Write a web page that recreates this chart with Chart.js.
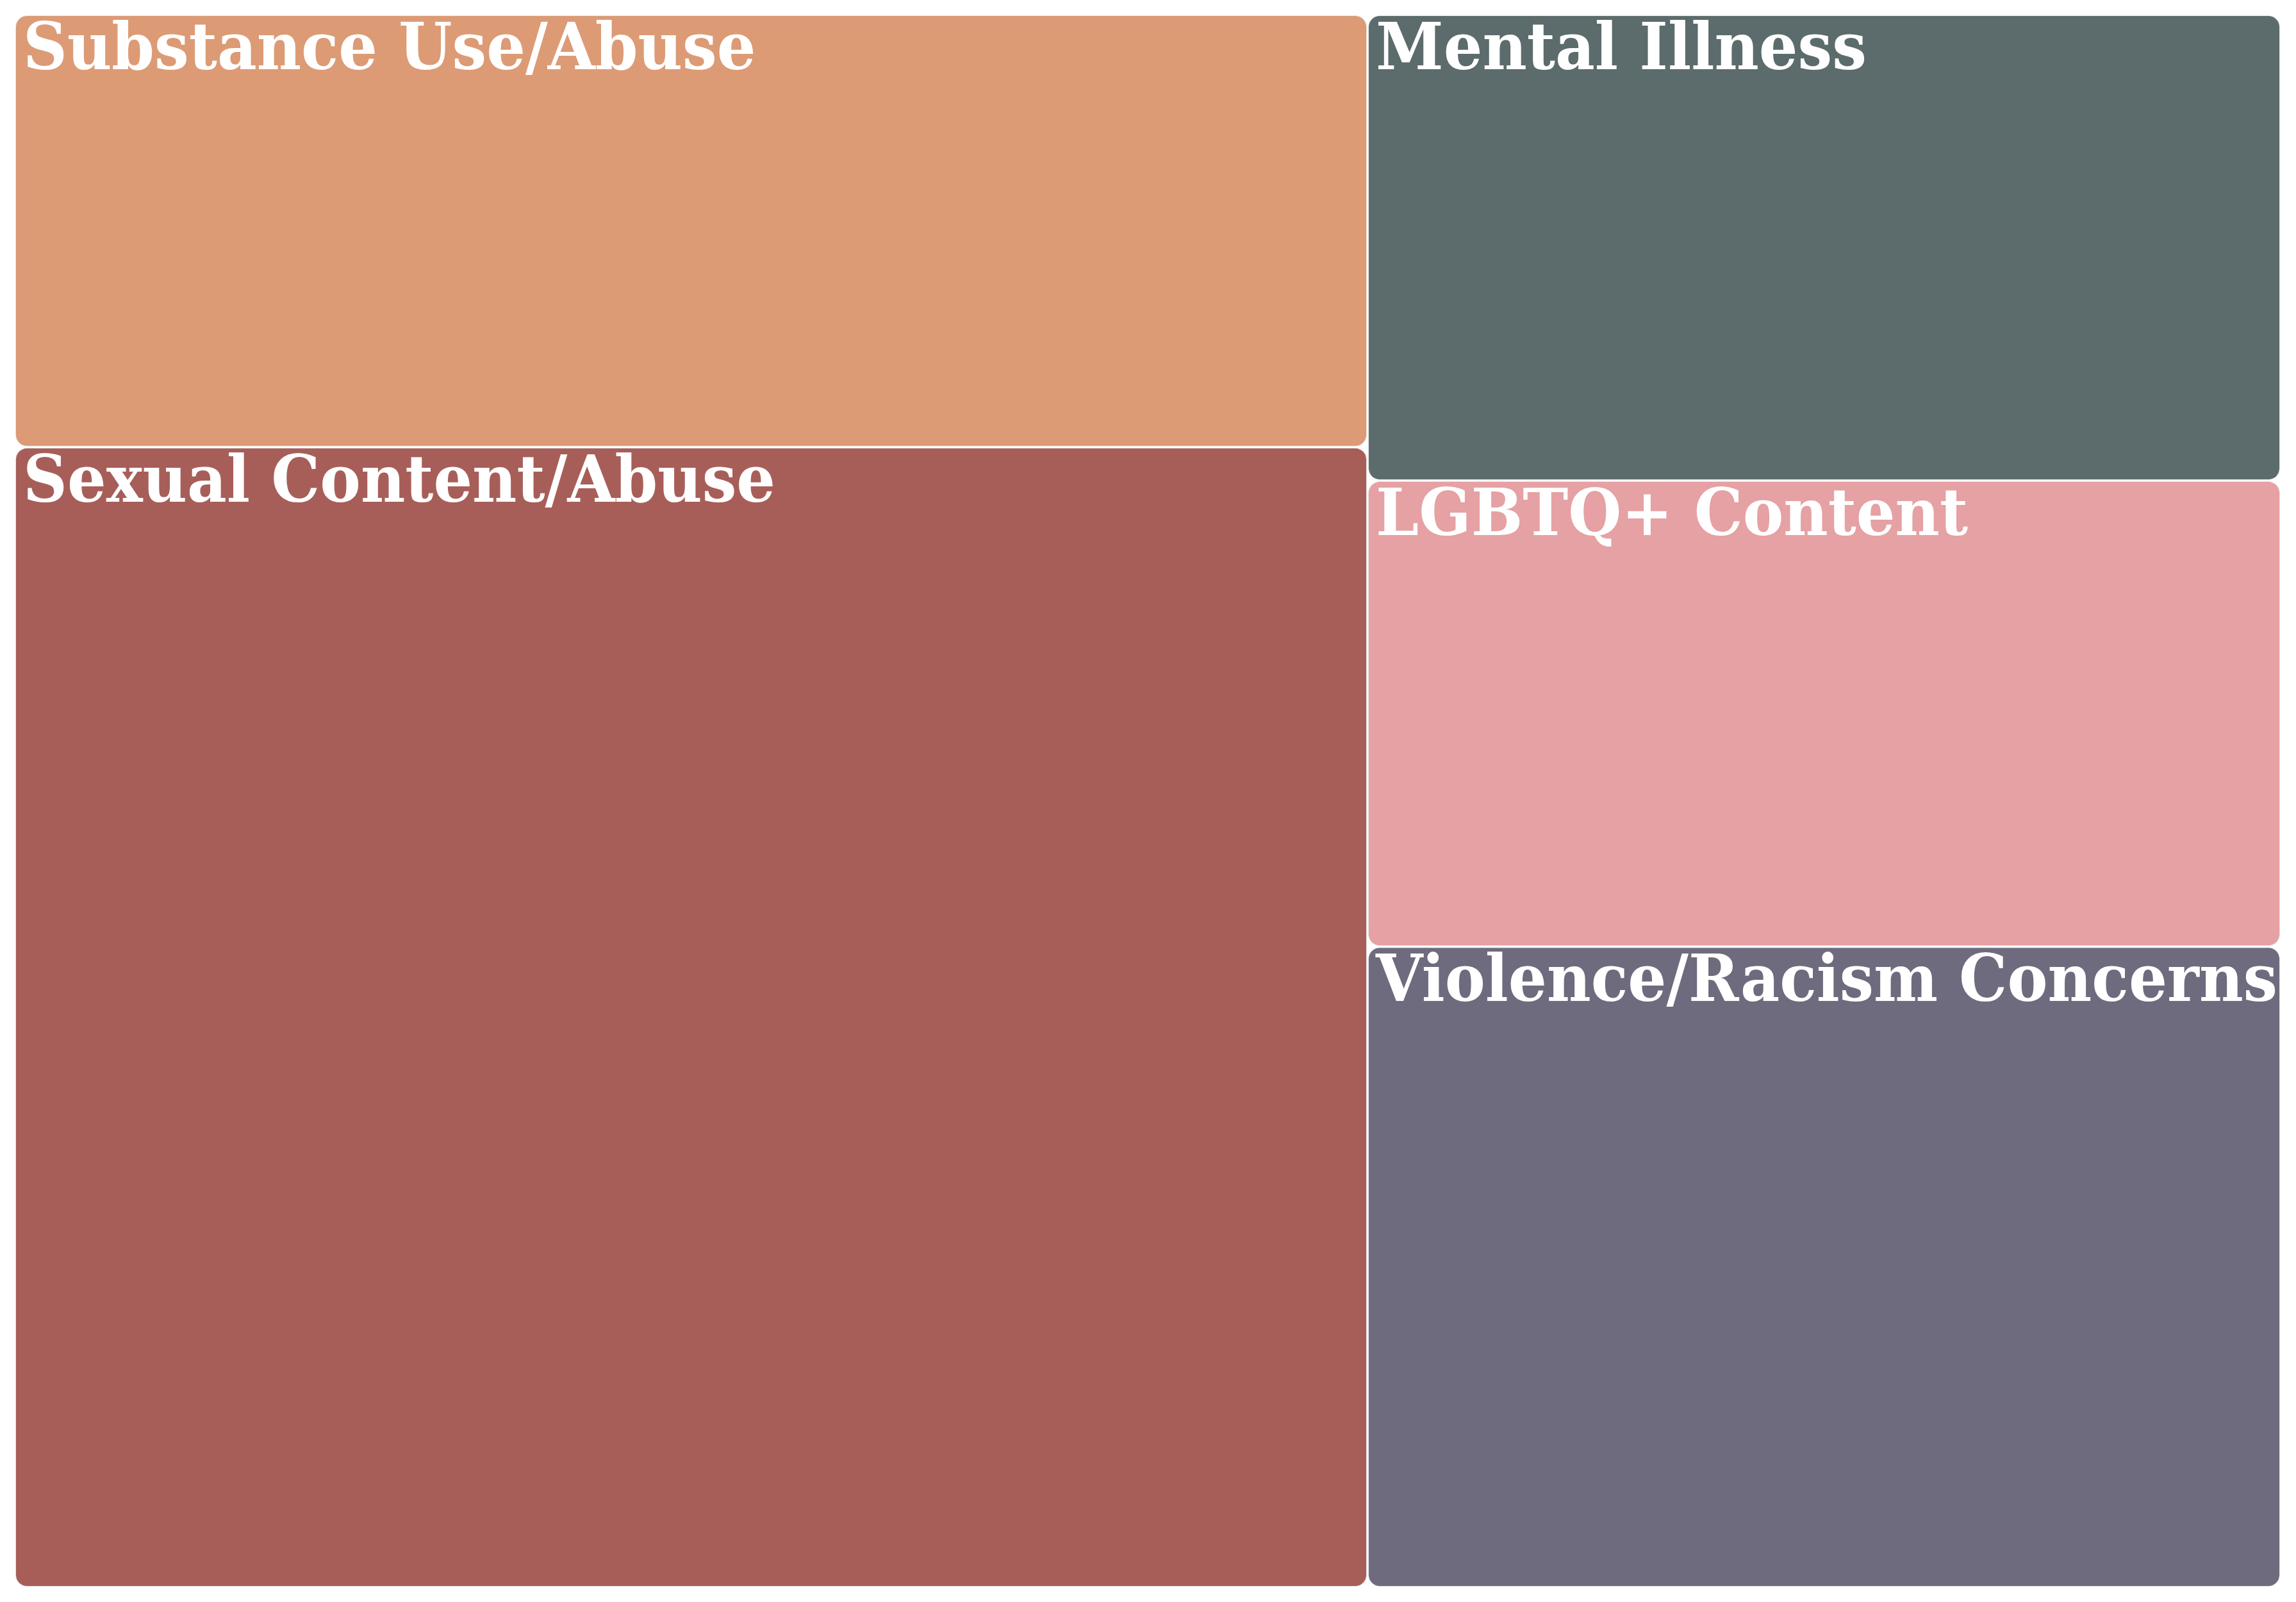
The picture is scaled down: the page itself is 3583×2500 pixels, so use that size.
<!DOCTYPE html>
<html>
<head>
<meta charset="utf-8">
<title>Treemap</title>
<script src="https://cdn.jsdelivr.net/npm/chart.js@4.4.1/dist/chart.umd.min.js"></script>
<style>
  html, body { margin: 0; padding: 0; background: #ffffff; }
  #wrap { width: 3583px; height: 2500px; }
</style>
</head>
<body>
<div id="wrap"><canvas id="c" width="3583" height="2500"></canvas></div>
<script>
// ---- data ----
const categories = [
  'Substance Use/Abuse',
  'Sexual Content/Abuse',
  'Mental Illness',
  'LGBTQ+ Content',
  'Violence/Racism Concerns'
];
const values = [11, 29, 8, 8, 11];
const colors = ['#DC9B75', '#A75E59', '#5C6B6B', '#E5A1A3', '#6E6B7E'];

// ---- squarified layout (d3-style, ratio 1, data order kept) ----
function squarify(vals, x0, y0, x1, y1, ratio) {
  const n = vals.length;
  const out = new Array(n);
  let value = vals.reduce((a, b) => a + b, 0);
  let i0 = 0, i1 = 0;
  while (i0 < n) {
    const dx = x1 - x0, dy = y1 - y0;
    let sumValue;
    do { sumValue = vals[i1++]; } while (!sumValue && i1 < n);
    let minValue = sumValue, maxValue = sumValue;
    const alpha = Math.max(dy / dx, dx / dy) / (value * ratio);
    let beta = sumValue * sumValue * alpha;
    let minRatio = Math.max(maxValue / beta, beta / minValue);
    for (; i1 < n; ++i1) {
      const v = vals[i1];
      sumValue += v;
      if (v < minValue) minValue = v;
      if (v > maxValue) maxValue = v;
      beta = sumValue * sumValue * alpha;
      const newRatio = Math.max(maxValue / beta, beta / minValue);
      if (newRatio > minRatio) { sumValue -= v; break; }
      minRatio = newRatio;
    }
    if (dx < dy) {
      const ny = y0 + dy * sumValue / value;
      let x = x0; const k = (x1 - x0) / sumValue;
      for (let i = i0; i < i1; i++) { const w = vals[i] * k; out[i] = {x0: x, x1: x + w, y0: y0, y1: ny}; x += w; }
      y0 = ny;
    } else {
      const nx = x0 + dx * sumValue / value;
      let y = y0; const k = (y1 - y0) / sumValue;
      for (let i = i0; i < i1; i++) { const h = vals[i] * k; out[i] = {x0: x0, x1: nx, y0: y, y1: y + h}; y += h; }
      x0 = nx;
    }
    value -= sumValue; i0 = i1;
  }
  return out;
}

// ---- custom treemap controller using Chart.js scales + BarElement ----
class TreemapLiteController extends Chart.DatasetController {
  update(mode) {
    const meta = this._cachedMeta;
    this.updateElements(meta.data, 0, meta.data.length, mode);
  }
  updateElements(rects, start, count, mode) {
    const meta = this._cachedMeta;
    const xs = meta.xScale, ys = meta.yScale;
    const vals = this.getDataset().data;
    const pw = Math.abs(xs.getPixelForValue(xs.max) - xs.getPixelForValue(xs.min));
    const ph = Math.abs(ys.getPixelForValue(ys.max) - ys.getPixelForValue(ys.min));
    const aspect = pw / ph;
    const boxes = squarify(vals, 0, 0, aspect, 1, 1);
    const gap = this.getDataset().cellGap || 0;
    this._boxesPx = [];
    for (let i = start; i < start + count; i++) {
      const b = boxes[i];
      const dx0 = xs.min + (b.x0 / aspect) * (xs.max - xs.min);
      const dx1 = xs.min + (b.x1 / aspect) * (xs.max - xs.min);
      const dy0 = ys.min + b.y0 * (ys.max - ys.min);
      const dy1 = ys.min + b.y1 * (ys.max - ys.min);
      const left = xs.getPixelForValue(dx0) + gap;
      const right = xs.getPixelForValue(dx1) - gap;
      const top = Math.min(ys.getPixelForValue(dy0), ys.getPixelForValue(dy1)) + gap;
      const bottom = Math.max(ys.getPixelForValue(dy0), ys.getPixelForValue(dy1)) - gap;
      this._boxesPx[i] = {left, right, top, bottom};
      const props = {
        x: (left + right) / 2,
        y: top,
        base: bottom,
        width: right - left,
        height: bottom - top,
        horizontal: false,
        borderSkipped: {},
        enableBorderRadius: true,
        inflateAmount: 0,
        options: this.resolveDataElementOptions(i, mode)
      };
      this.updateElement(rects[i], i, props, 'none');
    }
  }
  draw() {
    super.draw();
    const ctx = this.chart.ctx;
    const ds = this.getDataset();
    const labels = this.chart.data.labels;
    const lf = ds.labelFont;
    ctx.save();
    ctx.fillStyle = ds.labelColor;
    ctx.textAlign = 'left';
    ctx.textBaseline = 'alphabetic';
    ctx.font = 'bold ' + lf.size + 'px ' + lf.family;
    for (let i = 0; i < labels.length; i++) {
      const b = this._boxesPx[i];
      if (!b) continue;
      const text = String(labels[i]);
      const avail = (b.right - b.left) - lf.padX - 4;
      let sx = lf.stretch;
      const w = ctx.measureText(text).width * sx;
      if (w > avail) sx = sx * avail / w;
      ctx.save();
      ctx.translate(b.left + lf.padX, b.top + lf.baseline);
      ctx.scale(sx, 1);
      ctx.fillText(text, 0, 0);
      ctx.restore();
    }
    ctx.restore();
  }
}
TreemapLiteController.id = 'treemapLite';
TreemapLiteController.defaults = {
  datasetElementType: false,
  dataElementType: 'bar'
};
TreemapLiteController.overrides = {
  scales: {
    x: { type: 'linear', display: false },
    y: { type: 'linear', display: false, reverse: true }
  }
};
Chart.register(TreemapLiteController);

new Chart(document.getElementById('c'), {
  type: 'treemapLite',
  data: {
    labels: categories,
    datasets: [{
      data: values,
      backgroundColor: colors,
      borderColor: '#e4e4e4',
      borderWidth: 1,
      borderRadius: 18,
      cellGap: 1,
      clip: false,
      labelColor: '#ffffff',
      labelFont: { family: '"DejaVu Serif", serif', size: 101, stretch: 0.945, padX: 12, baseline: 84 }
    }]
  },
  options: {
    responsive: false,
    animation: false,
    devicePixelRatio: 1,
    layout: { padding: { left: 23, top: 23, right: 24, bottom: 23 } },
    scales: {
      x: { type: 'linear', min: 0, max: 100, display: false },
      y: { type: 'linear', min: 0, max: 100, display: false, reverse: true }
    },
    plugins: { legend: { display: false }, tooltip: { enabled: false } }
  }
});
</script>
</body>
</html>
